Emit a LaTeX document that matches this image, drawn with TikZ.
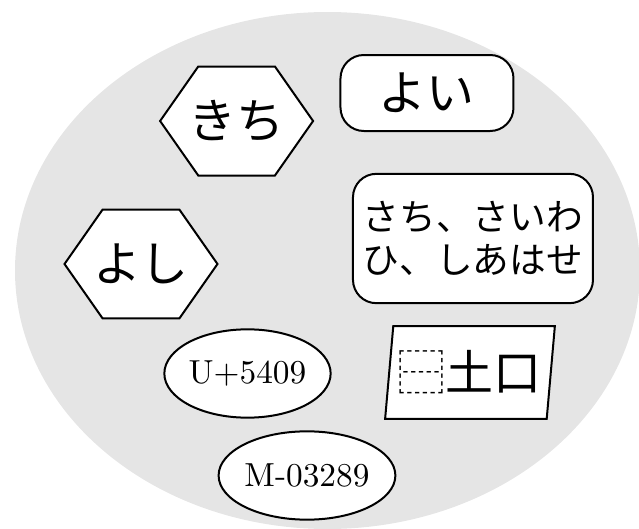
\documentclass[tikz,border=0pt]{standalone}
\usepackage{fontspec}
\usepackage{tikz}
\usetikzlibrary{shapes.geometric,shapes.symbols}
\newfontfamily\jpfont{Noto Sans CJK JP}
\definecolor{backdrop}{RGB}{229,229,229}

\begin{document}
\begin{tikzpicture}[x=0.3pt,y=-0.3pt,
  hexnode/.style={signal,signal to=west and east,signal pointer angle=110,
    draw,semithick,fill=white,minimum width=45.9pt,minimum height=32.7pt,
    inner xsep=-3pt,inner ysep=0pt,font=\jpfont\Large},
  roundbox/.style={rectangle,rounded corners=7pt,draw,semithick,fill=white,inner sep=0pt,font=\jpfont\Large},
  ovalnode/.style={ellipse,draw,semithick,fill=white,inner sep=0pt,minimum width=47.5pt,minimum height=26.5pt}]
 \useasboundingbox (0,0) rectangle (639,529);
 \fill[backdrop] (327.5,270.5) ellipse [x radius=93.75pt, y radius=77.55pt];
 % hexagons
 \node[hexnode] (kichi) at (236.6,121) {きち};
 \node[hexnode] (yoshi) at (141,264) {よし};
 % rounded boxes
 \node[roundbox,minimum width=51.9pt,minimum height=22.8pt] (yoi) at (427,93) {よい};
 \node[roundbox,align=center,minimum width=72pt,minimum height=38.8pt,
   font=\jpfont\fontsize{11}{12.75}\selectfont] (sachi) at (473,238.5) {さち、さいわ\\ひ、しあはせ};
 % slanted box
 \node[trapezium,trapezium left angle=80,trapezium right angle=100,trapezium stretches=true,
   draw,semithick,fill=white,minimum width=51pt,minimum height=27.9pt,inner sep=0pt,
   font=\jpfont\Large] (kanji) at (470,372.5) {⿱土口};
 % ovals
 \node[ovalnode] (codepoint) at (247.5,373.5) {U+5409};
 \node[ovalnode] (mojiid) at (307,475.5) {M-03289};
\end{tikzpicture}
\end{document}
